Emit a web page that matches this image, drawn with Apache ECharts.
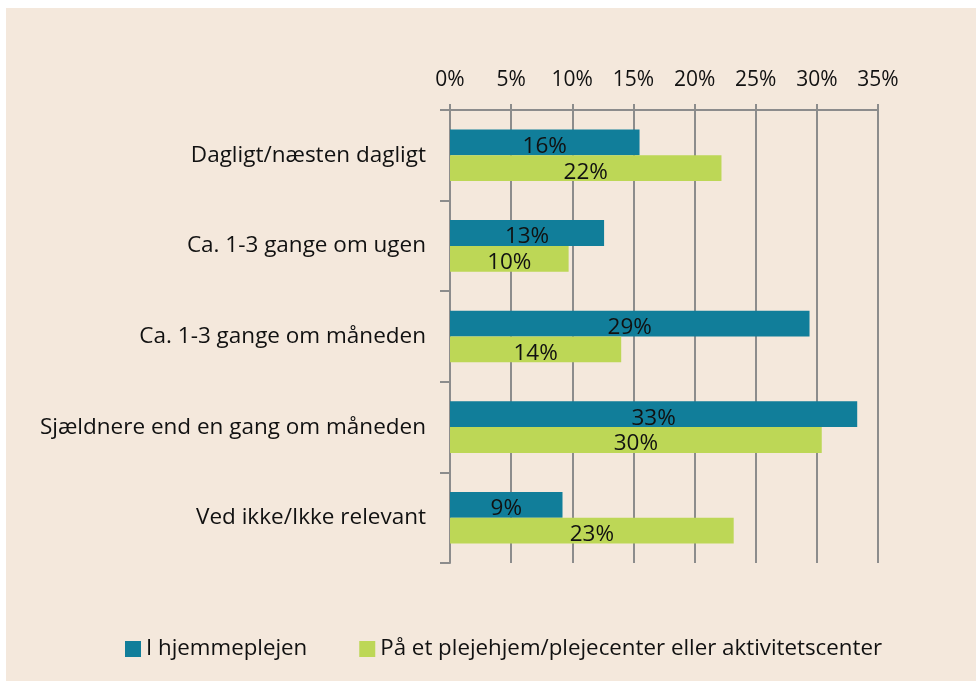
<!DOCTYPE html>
<html>
<head>
    <meta charset="utf-8">
    <title>Hjemmepleje</title>
    <script src="https://cdn.jsdelivr.net/npm/echarts@6/dist/echarts.min.js"></script>
    <style>
        body { margin: 0; background: #ffffff; }
        #main { position: absolute; left: 6px; top: 8px; width: 970px; height: 673px; background: #F4E8DC; }
    </style>
</head>
<body>
<div id="main"></div>
<script type="text/javascript">
    // data
    var categories = ['Dagligt/næsten dagligt', 'Ca. 1-3 gange om ugen', 'Ca. 1-3 gange om måneden',
        'Sjældnere end en gang om måneden', 'Ved ikke/Ikke relevant'];
    var seriesNames = ['I hjemmeplejen', 'På et plejehjem/plejecenter eller aktivitetscenter'];
    var hjemmeplejen = [15.5, 12.6, 29.4, 33.3, 9.2];
    var plejehjem = [22.2, 9.7, 14.0, 30.4, 23.2];
    var tickMax = 35, tickStep = 5;

    var font = 'Open Sans';
    var grayLine = '#8c8c8c';

    var myChart = echarts.init(document.getElementById('main'));

    var labelOpt = {
        show: true,
        position: 'inside',
        offset: [0, 4],
        color: '#111',
        fontFamily: font,
        fontSize: 22.5,
        formatter: function (p) { return Math.round(p.value) + '%'; }
    };

    var option = {
        backgroundColor: '#F4E8DC',
        animation: false,
        grid: { left: 444, right: 98, top: 102, bottom: 118 },
        legend: {
            data: seriesNames,
            left: 114,
            top: 625,
            itemWidth: 16,
            itemHeight: 16,
            itemGap: 52,
            icon: 'rect',
            textStyle: { fontFamily: font, fontSize: 22.3, color: '#111' }
        },
        xAxis: {
            type: 'value',
            position: 'top',
            min: 0,
            max: tickMax,
            interval: tickStep,
            axisLine: { show: true, lineStyle: { color: grayLine, width: 2 } },
            axisTick: { show: true, length: 6, lineStyle: { color: grayLine, width: 2 } },
            splitLine: { show: true, lineStyle: { color: grayLine, width: 2 } },
            axisLabel: { margin: 19, fontFamily: font, fontSize: 21, color: '#111', formatter: '{value}%' }
        },
        yAxis: {
            type: 'category',
            inverse: true,
            data: categories,
            axisLine: { show: true, lineStyle: { color: grayLine, width: 2 } },
            axisTick: { show: true, length: 10, lineStyle: { color: grayLine, width: 2 } },
            axisLabel: { margin: 24, fontFamily: font, fontSize: 22.5, color: '#111' }
        },
        series: [{
            name: seriesNames[0],
            type: 'bar',
            data: hjemmeplejen,
            barGap: 0,
            barCategoryGap: '43%',
            itemStyle: { color: '#117E9A' },
            label: labelOpt
        }, {
            name: seriesNames[1],
            type: 'bar',
            data: plejehjem,
            barGap: 0,
            barCategoryGap: '43%',
            itemStyle: { color: '#BDD756' },
            label: labelOpt
        }]
    };

    myChart.setOption(option);
</script>
</body>
</html>
